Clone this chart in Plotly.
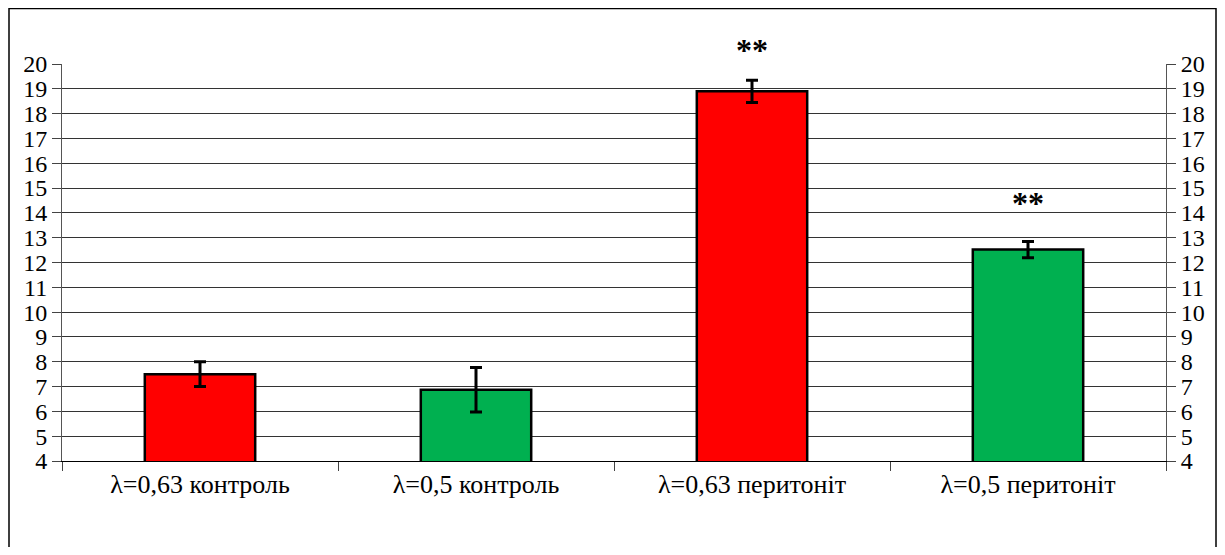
import plotly.graph_objects as go

categories = ["λ=0,63 контроль", "λ=0,5 контроль", "λ=0,63 перитоніт", "λ=0,5 перитоніт"]
values = [7.5, 6.87, 18.9, 12.52]
errors = [0.5, 0.9, 0.45, 0.33]
colors = ["#ff0000", "#00b050", "#ff0000", "#00b050"]
marks = ["", "", "**", "**"]
mark_y = [None, None, 20.55, 14.4]
yticks = list(range(4, 21))
YMIN, YMAX = 4, 20

FONT = "Liberation Serif"

fig = go.Figure()
fig.add_trace(go.Bar(
    x=categories, y=values, width=0.4,
    marker=dict(color=colors, line=dict(color="black", width=2.5)),
    error_y=dict(type="data", array=errors, color="black", thickness=3, width=6),
    hoverinfo="skip", showlegend=False,
))
fig.add_trace(go.Scatter(
    x=categories, y=values, yaxis="y2", mode="markers",
    marker=dict(opacity=0), hoverinfo="skip", showlegend=False,
))

for c, m, my in zip(categories, marks, mark_y):
    if m:
        fig.add_annotation(x=c, xref="x", y=(my - YMIN) / (YMAX - YMIN), yref="y domain",
                           text="<b>" + m + "</b>", showarrow=False,
                           font=dict(family=FONT, size=32, color="black"),
                           yanchor="middle")

axis_common = dict(
    range=[YMIN, YMAX], tickvals=yticks, ticks="outside", ticklen=9,
    tickcolor="#444", linecolor="#555", linewidth=1, showline=True,
    tickfont=dict(family=FONT, size=24, color="black"), zeroline=False,
)

W, H = 1209, 539
L, R, T, B = 54, 51, 56, 86
PW, PH = W - L - R, H - T - B

fig.update_layout(
    width=W, height=H,
    margin=dict(l=L, r=R, t=T, b=B),
    paper_bgcolor="white", plot_bgcolor="white",
    font=dict(family=FONT),
    bargap=0.6,
    xaxis=dict(
        type="category", tickson="boundaries", ticks="outside", ticklen=9,
        tickcolor="#444", showline=True, linecolor="black", linewidth=1,
        showgrid=False, tickfont=dict(family=FONT, size=26, color="black"),
    ),
    yaxis=dict(**axis_common, showgrid=True, gridcolor="#333", gridwidth=1, side="left"),
    yaxis2=dict(**axis_common, showgrid=False, overlaying="y", side="right"),
    shapes=[dict(type="rect", xref="paper", yref="paper",
                 x0=(1 - L) / PW, x1=(W - 1 - L) / PW, y0=-(B + 20) / PH, y1=(PH + T - 0.5) / PH,
                 line=dict(color="black", width=1.5), fillcolor="rgba(0,0,0,0)", layer="above")],
)

fig.write_html("out.html")
